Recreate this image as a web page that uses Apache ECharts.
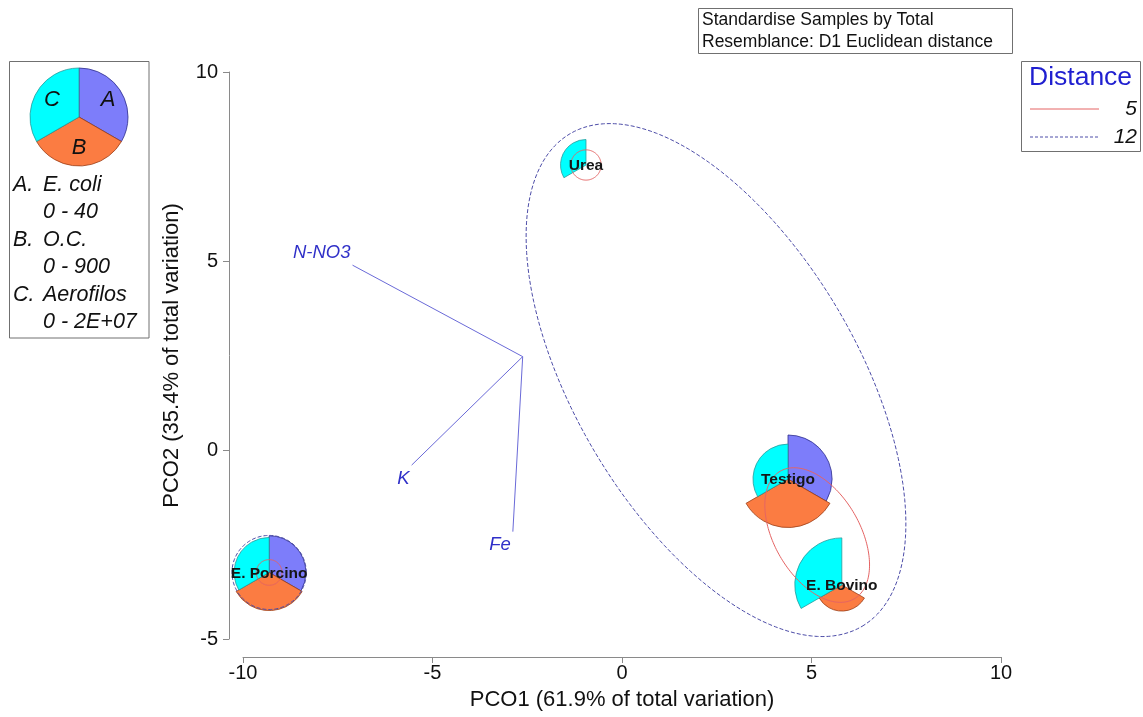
<!DOCTYPE html>
<html>
<head>
<meta charset="utf-8">
<script src="https://cdn.jsdelivr.net/npm/echarts@6/dist/echarts.min.js"></script>
<style>
html,body{margin:0;padding:0;background:#fff;}
#chart{width:1143px;height:717px;}
</style>
</head>
<body>
<div id="chart"></div>
<script>
// ---------- data ----------
const samples = ['Testigo', 'E. Bovino', 'E. Porcino', 'Urea'];
const pco1 = [4.38, 5.80, -9.31, -0.95];
const pco2 = [-0.77, -3.57, -3.24, 7.54];
const ecoli = [36, 0, 30, 0];              // A. E. coli (0 - 40)
const oc = [890, 480, 700, 0];              // B. O.C. (0 - 900)
const aerofilos = [1.43e7, 1.92e7, 1.43e7, 1.04e7]; // C. Aerofilos (0 - 2E+07)
const varNames = ['E. coli', 'O.C.', 'Aerofilos'];
const varMax = [40, 900, 2e7];
const varRangeText = ['0 - 40', '0 - 900', '0 - 2E+07'];

const vecNames = ['N-NO3', 'K', 'Fe'];
const vecOrigin = [-2.62, 2.47];
const vecEndX = [-7.11, -5.55, -2.88];
const vecEndY = [4.89, -0.40, -2.16];

const contourLevel = [5, 5, 5, 12, 12];
const contourCx = [-0.95, -9.31, 5.15, -9.31, 2.48];
const contourCy = [7.54, -3.24, -2.25, -3.24, 1.85];
const contourA = [0.40, 0.34, 1.95, 0.98, 7.57];
const contourB = [0.40, 0.34, 1.13, 0.98, 3.72];
const contourAngle = [0, 0, -60, 0, -59.4];

const xTicks = [-10, -5, 0, 5, 10];
const yTicks = [-5, 0, 5, 10];

// ---------- styles ----------
const FONT = 'Liberation Sans, Arial, sans-serif';
const segFill = ['#7d7dfa', '#fb7c42', '#00ffff'];
const segStroke = ['#2d2d8c', '#9a3e16', '#2a9a9a'];
const R_FULL = 49;
const A0 = -Math.PI / 2;
const segAngles = [
  [A0, A0 + 2 * Math.PI / 3],
  [A0 + 2 * Math.PI / 3, A0 + 4 * Math.PI / 3],
  [A0 + 4 * Math.PI / 3, A0 + 2 * Math.PI]
];

const chart = echarts.init(document.getElementById('chart'), null, {renderer: 'canvas'});

const pieData = samples.map((s, i) => [pco1[i], pco2[i], ecoli[i], oc[i], aerofilos[i]]);
const labelData = samples.map((s, i) => [pco1[i], pco2[i], i]);
const vecData = vecNames.map((n, i) => [vecEndX[i], vecEndY[i], i]);
const contourData = contourLevel.map((l, i) => [contourCx[i], contourCy[i], contourA[i], contourB[i], contourAngle[i], l]);

function sectorEls(cx, cy, vals, rFull) {
  const els = [];
  for (let k = 0; k < 3; k++) {
    const r = vals[k] / varMax[k] * rFull;
    if (r <= 0) continue;
    els.push({
      type: 'sector',
      shape: {cx: cx, cy: cy, r0: 0, r: r, startAngle: segAngles[k][0], endAngle: segAngles[k][1], clockwise: true},
      style: {fill: segFill[k], stroke: segStroke[k], lineWidth: 0.8}
    });
  }
  return els;
}

const option = {
  animation: false,
  backgroundColor: '#fff',
  grid: {left: 243, right: 142, top: 72, bottom: 78, containLabel: false},
  xAxis: {
    type: 'value', min: -10, max: 10, interval: 5, offset: 18,
    axisLine: {show: true, onZero: false, lineStyle: {color: '#8a8a8a', width: 1}},
    axisTick: {show: true, length: 6, lineStyle: {color: '#8a8a8a'}},
    axisLabel: {fontSize: 20, color: '#111', fontFamily: FONT, margin: 6,
      formatter: v => xTicks.indexOf(v) >= 0 ? String(v) : ''},
    splitLine: {show: false},
    name: 'PCO1 (61.9% of total variation)', nameLocation: 'middle', nameGap: 32,
    nameTextStyle: {fontSize: 22, color: '#111', fontFamily: FONT}
  },
  yAxis: {
    type: 'value', min: -5, max: 10, interval: 5, offset: 14,
    axisLine: {show: true, onZero: false, lineStyle: {color: '#8a8a8a', width: 1}},
    axisTick: {show: true, length: 6, lineStyle: {color: '#8a8a8a'}},
    axisLabel: {fontSize: 20, color: '#111', fontFamily: FONT, margin: 11,
      formatter: v => yTicks.indexOf(v) >= 0 ? String(v) : ''},
    splitLine: {show: false},
    name: 'PCO2 (35.4% of total variation)', nameLocation: 'middle', nameGap: 46,
    nameTextStyle: {fontSize: 22, color: '#111', fontFamily: FONT}
  },
  series: [
    {
      type: 'custom', name: 'bubbles', z: 2, clip: false,
      data: pieData,
      renderItem: function (params, api) {
        const p = api.coord([api.value(0), api.value(1)]);
        return {type: 'group', children: sectorEls(p[0], p[1], [api.value(2), api.value(3), api.value(4)], R_FULL)};
      }
    },
    {
      type: 'custom', name: 'vectors', z: 3, clip: false,
      data: vecData,
      renderItem: function (params, api) {
        const o = api.coord(vecOrigin);
        const e = api.coord([api.value(0), api.value(1)]);
        const idx = api.value(2);
        const up = e[1] < o[1];
        return {type: 'group', children: [
          {type: 'line', shape: {x1: o[0], y1: o[1], x2: e[0], y2: e[1]}, style: {stroke: '#6a6ad8', lineWidth: 1}},
          {type: 'text', style: {text: vecNames[idx], x: e[0] - 2, y: up ? e[1] - 3 : e[1] + 4,
            align: 'right', verticalAlign: up ? 'bottom' : 'top',
            font: 'italic 18.5px ' + FONT, fill: '#3030c8'}}
        ]};
      }
    },
    {
      type: 'custom', name: 'contours', z: 4, clip: false,
      data: contourData,
      renderItem: function (params, api) {
        const cx = api.value(0), cy = api.value(1), a = api.value(2), b = api.value(3);
        const th = api.value(4) * Math.PI / 180;
        const lvl = api.value(5);
        const pts = [];
        const N = 180;
        for (let k = 0; k <= N; k++) {
          const t = k / N * 2 * Math.PI;
          const dx = a * Math.cos(t) * Math.cos(th) - b * Math.sin(t) * Math.sin(th);
          const dy = a * Math.cos(t) * Math.sin(th) + b * Math.sin(t) * Math.cos(th);
          pts.push(api.coord([cx + dx, cy + dy]));
        }
        return {type: 'polyline', shape: {points: pts},
          style: lvl === 5 ? {stroke: '#e56464', lineWidth: 1, fill: null}
                           : {stroke: '#4d4da8', lineWidth: 1, lineDash: [4, 2], fill: null}};
      }
    },
    {
      type: 'custom', name: 'labels', z: 5, clip: false,
      data: labelData,
      renderItem: function (params, api) {
        const p = api.coord([api.value(0), api.value(1)]);
        return {type: 'text', style: {text: samples[api.value(2)], x: p[0], y: p[1] + 1,
          align: 'center', verticalAlign: 'middle', font: 'bold 15.5px ' + FONT, fill: '#161616'}};
      }
    }
  ],
  graphic: (function () {
    const g = [];
    // top info box
    g.push({type: 'rect', shape: {x: 698.5, y: 8.5, width: 314, height: 45}, style: {fill: '#fff', stroke: '#707070', lineWidth: 1}, z: 10});
    g.push({type: 'text', style: {text: 'Standardise Samples by Total', x: 702, y: 20, verticalAlign: 'middle', font: '17.5px ' + FONT, fill: '#111'}, z: 11});
    g.push({type: 'text', style: {text: 'Resemblance: D1 Euclidean distance', x: 702, y: 42, verticalAlign: 'middle', font: '17.5px ' + FONT, fill: '#111'}, z: 11});
    // distance legend
    g.push({type: 'rect', shape: {x: 1021.5, y: 61.5, width: 119, height: 90}, style: {fill: '#fff', stroke: '#707070', lineWidth: 1}, z: 10});
    g.push({type: 'text', style: {text: 'Distance', x: 1029, y: 78, verticalAlign: 'middle', font: '26.5px ' + FONT, fill: '#1f1fd0'}, z: 11});
    g.push({type: 'line', shape: {x1: 1030, y1: 109, x2: 1099, y2: 109}, style: {stroke: '#e56464', lineWidth: 1}, z: 11});
    g.push({type: 'text', style: {text: String(contourLevel[0]), x: 1137, y: 109, align: 'right', verticalAlign: 'middle', font: 'italic 21px ' + FONT, fill: '#111'}, z: 11});
    g.push({type: 'line', shape: {x1: 1030, y1: 137, x2: 1099, y2: 137}, style: {stroke: '#4d4da8', lineWidth: 1, lineDash: [3, 2]}, z: 11});
    g.push({type: 'text', style: {text: String(contourLevel[3]), x: 1137, y: 137, align: 'right', verticalAlign: 'middle', font: 'italic 21px ' + FONT, fill: '#111'}, z: 11});
    // segment key
    g.push({type: 'rect', shape: {x: 9.5, y: 61.5, width: 139.5, height: 276.5}, style: {fill: '#fff', stroke: '#707070', lineWidth: 1}, z: 10});
    sectorEls(79, 117, varMax, 49).forEach(el => { el.z = 11; g.push(el); });
    const letters = ['A', 'B', 'C'];
    const letterPos = [[108, 100], [79, 148], [52, 100]];
    letters.forEach((L, k) => g.push({type: 'text', style: {text: L, x: letterPos[k][0], y: letterPos[k][1], align: 'center', verticalAlign: 'middle', font: 'italic 22px ' + FONT, fill: '#111'}, z: 12}));
    const rowY = [185, 240, 295];
    letters.forEach((L, k) => {
      g.push({type: 'text', style: {text: L + '.', x: 13, y: rowY[k], verticalAlign: 'middle', font: 'italic 21.5px ' + FONT, fill: '#111'}, z: 11});
      g.push({type: 'text', style: {text: varNames[k], x: 43, y: rowY[k], verticalAlign: 'middle', font: 'italic 21.5px ' + FONT, fill: '#111'}, z: 11});
      g.push({type: 'text', style: {text: varRangeText[k], x: 43, y: rowY[k] + 27, verticalAlign: 'middle', font: 'italic 21.5px ' + FONT, fill: '#111'}, z: 11});
    });
    return g;
  })()
};
chart.setOption(option);
</script>
</body>
</html>
